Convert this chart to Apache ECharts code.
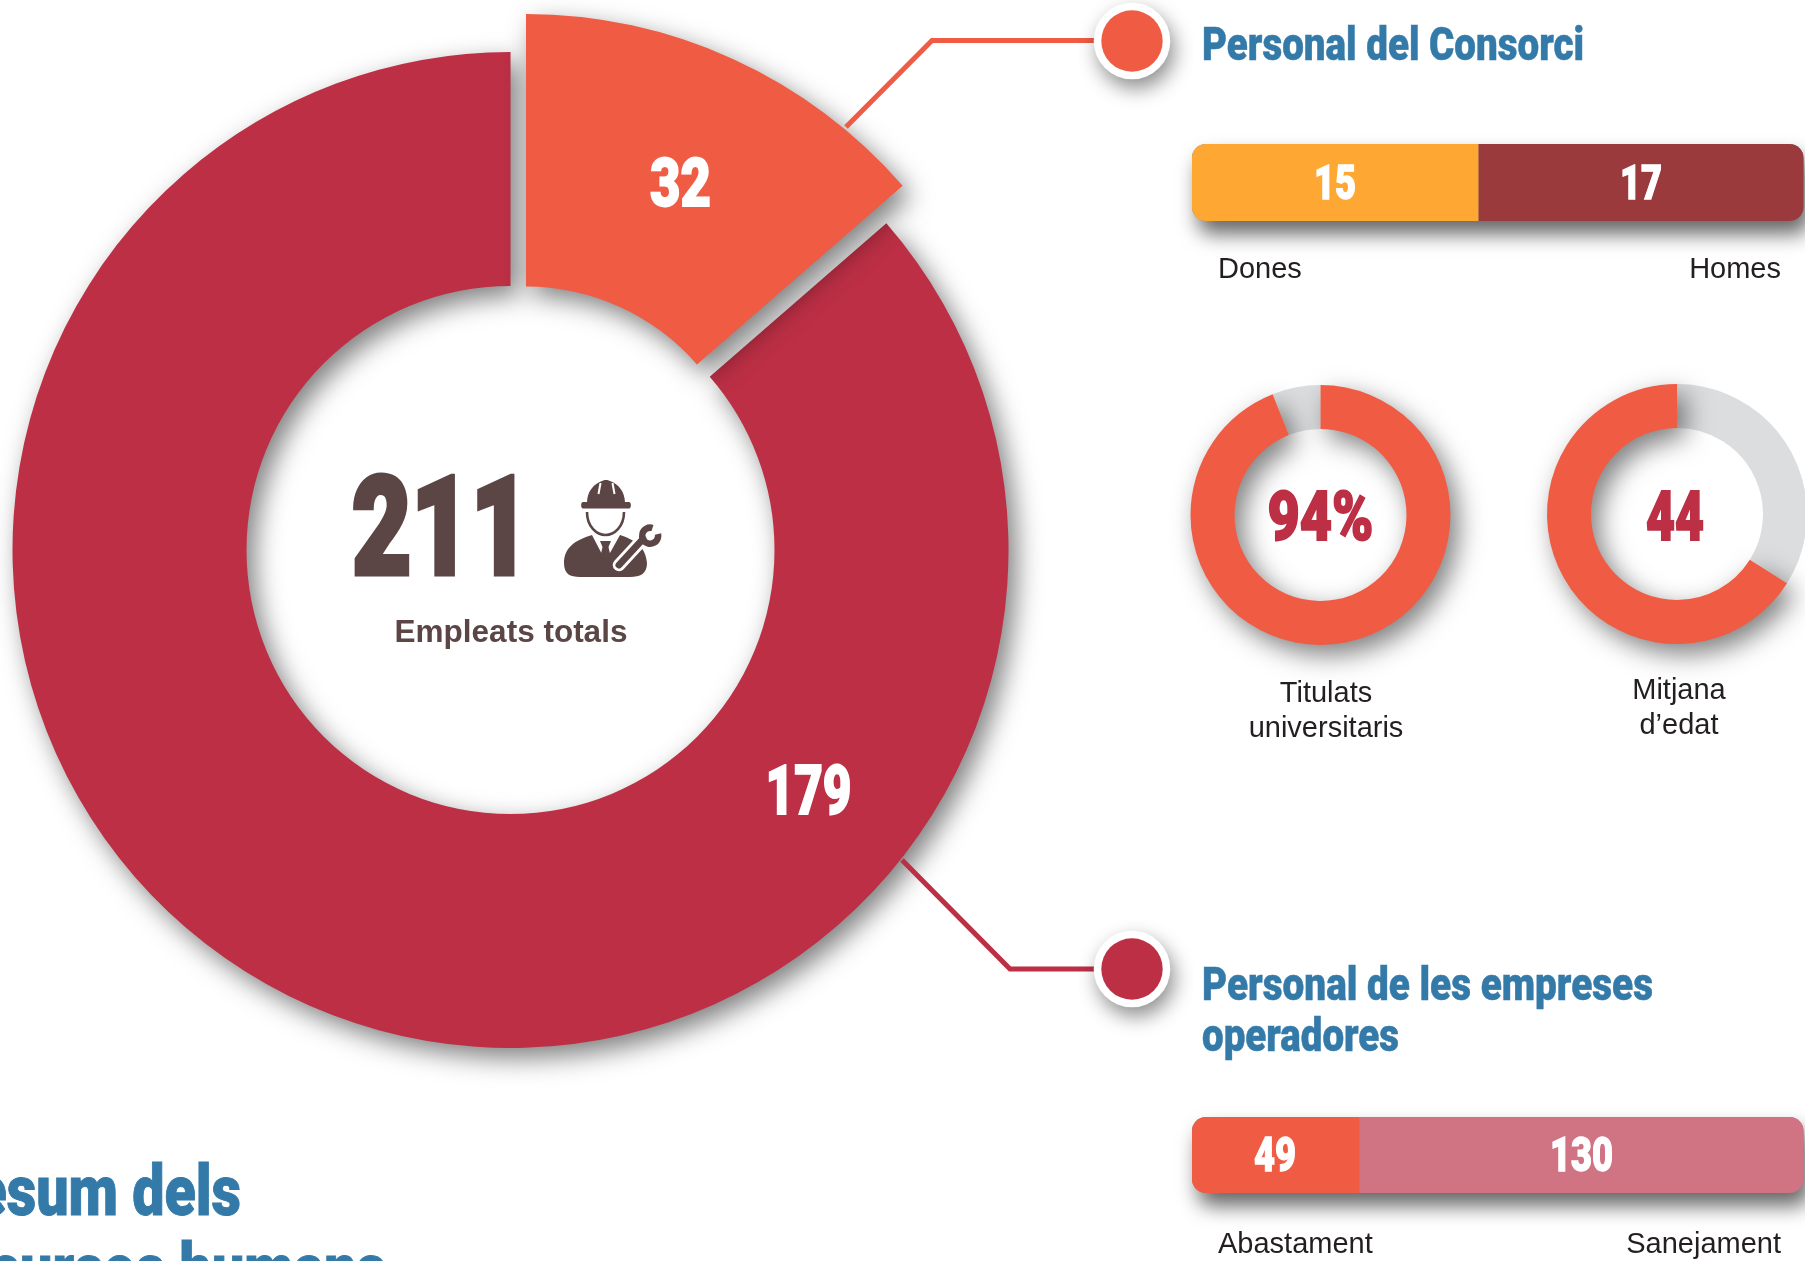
<!DOCTYPE html>
<html>
<head>
<meta charset="utf-8">
<title>Resum dels recursos humans</title>
<script src="https://cdn.jsdelivr.net/npm/echarts@6/dist/echarts.min.js"></script>
<style>html,body{margin:0;padding:0;background:#fff}#c{width:1805px;height:1261px}</style>
</head>
<body>
<div id="c"></div>
<script>
// Headcount (as printed)
const groupNames = ['Personal del Consorci', 'Personal de les empreses operadores'];
const groupCounts = [32, 179];
const totalCount = 211;
const totalLabel = 'Empleats totals';
// The printed ring does not give the slices their true share: the orange wedge
// spans 49 degrees, not 54.6. Invisible remainders reproduce the drawn arcs.
const consorciRemainder = [203.1];
const operadoresRemainder = [28.2];

const genderNames = ['Dones', 'Homes'];
const genderValues = [15, 17];
const serviceNames = ['Abastament', 'Sanejament'];
const serviceValues = [49, 130];

const graduatesPct = [94, 6];
const graduatesLabel = ['Titulats', 'universitaris'];
const ageValue = [44, 22.6];   // mean age and the grey remainder of the drawn ring
const ageLabel = ['Mitjana', 'd\u2019edat'];

const titleLines = ['Resum dels', 'recursos humans'];
const headingLines = ['Personal de les empreses', 'operadores'];

const ORANGE = '#f05b44', RED = '#bc2f45', AMBER = '#ffa733', BROWN = '#9a3a3c',
      PINK = '#d07383', GREY = '#dcddde', BLUE = '#347aa9', DARK = '#5b4545', INK = '#231f20';
const HEAVY = 'Roboto, "Liberation Sans", sans-serif';
const SANS = '"Liberation Sans", Arial, sans-serif';

const shadow = {shadowColor: 'rgba(0,0,0,0.5)', shadowBlur: 26, shadowOffsetX: 8, shadowOffsetY: 10};
const none = {color: 'rgba(0,0,0,0)', shadowBlur: 0, shadowColor: 'rgba(0,0,0,0)', borderWidth: 0};

const ctx = document.createElement('canvas').getContext('2d');
function widthScale(text, size, targetWidth) {
  ctx.font = '900 ' + size + 'px ' + HEAVY;
  return targetWidth / ctx.measureText(text).width;
}

function hidden(name, value) {
  return {name, value, itemStyle: none};
}
function shown(name, value, color, extra) {
  return {name, value, itemStyle: Object.assign({color}, extra || {})};
}
function ring(center, radius, startAngle, data, extra) {
  return Object.assign({
    type: 'pie', center, radius, startAngle, clockwise: true, silent: true,
    label: {show: false}, labelLine: {show: false}, data, animation: false,
    emphasis: {disabled: true}
  }, extra || {});
}
function barSeries(gridIndex, name, value, color, radius, withBg) {
  const s = {
    type: 'bar', stack: 's' + gridIndex, xAxisIndex: gridIndex, yAxisIndex: gridIndex,
    name, barWidth: '100%', silent: true, animation: false,
    data: [{value, itemStyle: {color, borderRadius: radius}}]
  };
  if (withBg) {
    s.showBackground = true;
    s.backgroundStyle = {color: '#888', borderRadius: 14, shadowColor: 'rgba(0,0,0,0.6)',
      shadowBlur: 20, shadowOffsetX: 6, shadowOffsetY: 13};
  }
  return s;
}
function txt(text, x, baseline, size, o) {
  o = o || {};
  return {
    type: 'text', x, y: baseline - size * 0.27, z: 20, scaleX: o.sx || 1, scaleY: o.sy || 1,
    silent: true,
    style: {text, x: 0, y: 0, fontSize: size, fontFamily: o.font || SANS,
      fontWeight: o.weight || 'normal', fill: o.color || INK, align: o.align || 'left',
      verticalAlign: 'middle', stroke: o.stroke ? (o.color || INK) : null, lineWidth: o.stroke || 0}
  };
}
function heavy(text, x, baseline, size, width, color, align, sx, stroke) {
  return txt(text, x, baseline, size, {font: HEAVY, weight: 900, color, align: align || 'center',
    sx: sx || widthScale(text, size, width), stroke: stroke || size * 0.028});
}
function dot(cx, cy, color) {
  return [
    {type: 'circle', z: 15, silent: true, shape: {cx, cy, r: 38.3},
     style: {fill: '#fff', shadowColor: 'rgba(0,0,0,0.45)', shadowBlur: 20, shadowOffsetX: 4, shadowOffsetY: 9}},
    {type: 'circle', z: 16, silent: true, shape: {cx, cy, r: 30.7}, style: {fill: color}}
  ];
}
function leader(points, color) {
  return {type: 'polyline', z: 12, silent: true, shape: {points},
    style: {stroke: color, lineWidth: 5, fill: null, lineJoin: 'miter'}};
}
function iconPath(d, style) {
  return {type: 'path', silent: true, shape: {pathData: d}, style};
}

const iconShapes = [
  iconPath('M587 503 C587 491 594 484 602 481 C604 479.5 608 479.5 610 481 C618 484 625 491 625 503 Z', {fill: DARK}),
  iconPath('M583 502 L629 502 C631.5 502 631.5 508.5 629 508.5 L583 508.5 C580.5 508.5 580.5 502 583 502 Z', {fill: DARK}),
  iconPath('M600.5 483 L598.5 494', {stroke: '#fff', lineWidth: 2, fill: null}),
  iconPath('M612.5 483 L614.5 494', {stroke: '#fff', lineWidth: 2, fill: null}),
  iconPath('M587 512 C587 527 597 535 605.5 535 C614 535 624 527 624 512', {stroke: DARK, lineWidth: 2.6, fill: null}),
  iconPath('M564 563 C564 548 575 540 592 535 L605.5 561 L620 535 C636 540 646 548 647 563 C647 574 640 577 630 577 L580 577 C570 577 564 574 564 563 Z', {fill: DARK}),
  iconPath('M600 541 L611 541 L608.5 547 L611 558 L605.5 564 L600 558 L602.5 547 Z', {fill: DARK}),
  iconPath('M619 565 L643 539', {stroke: '#fff', lineWidth: 12.5, lineCap: 'round', fill: null}),
  iconPath('M651.5 526.5 A9 9 0 1 0 659.5 535', {stroke: '#fff', lineWidth: 12, fill: null}),
  iconPath('M619 565 L643 539', {stroke: DARK, lineWidth: 7, lineCap: 'round', fill: null}),
  iconPath('M652.5 528 A8 8 0 1 0 658 534', {stroke: DARK, lineWidth: 6.5, fill: null})
];

const blueScale = widthScale(groupNames[0], 46, 382) * 0.965;
const option = {
  backgroundColor: '#fff',
  animation: false,
  grid: [
    {left: 1192, top: 144, width: 611.5, height: 77},
    {left: 1192, top: 1117, width: 611.5, height: 76}
  ],
  xAxis: [
    {type: 'value', gridIndex: 0, min: 0, max: genderValues[0] + genderValues[1], show: false},
    {type: 'value', gridIndex: 1, min: 0, max: serviceValues[0] + serviceValues[1], show: false}
  ],
  yAxis: [
    {type: 'category', gridIndex: 0, data: [groupNames[0]], show: false},
    {type: 'category', gridIndex: 1, data: [groupNames[1]], show: false}
  ],
  series: [
    ring([510.5, 550], [264, 498], 41, [
      shown(groupNames[1], groupCounts[1], RED, shadow),
      hidden('resta', operadoresRemainder[0])
    ], {z: 2}),
    ring([526, 513], [226.5, 499], 90, [
      shown(groupNames[0], groupCounts[0], ORANGE, shadow),
      hidden('resta', consorciRemainder[0])
    ], {z: 3}),
    ring([1320.5, 515], [86, 130], 111.6, [
      {name: 'resta', value: graduatesPct[1], itemStyle: {color: GREY}},
      shown('Titulats', graduatesPct[0], ORANGE, shadow)
    ], {z: 2}),
    ring([1677, 514], [86, 130], 90, [
      {name: 'resta', value: ageValue[1], itemStyle: {color: GREY}},
      shown('Edat', ageValue[0], ORANGE, shadow)
    ], {z: 2}),
    barSeries(0, genderNames[0], genderValues[0], AMBER, [14, 0, 0, 14], true),
    barSeries(0, genderNames[1], genderValues[1], BROWN, [0, 14, 14, 0], false),
    barSeries(1, serviceNames[0], serviceValues[0], ORANGE, [14, 0, 0, 14], true),
    barSeries(1, serviceNames[1], serviceValues[1], PINK, [0, 14, 14, 0], false),
    {type: 'custom', coordinateSystem: 'none', z: 8, silent: true, animation: false, data: [totalCount],
      renderItem: function () { return {type: 'group', children: iconShapes}; }}
  ],
  graphic: {elements: [
    leader([[846, 127], [932, 40.5], [1100, 40.5]], ORANGE),
    leader([[902, 860], [1010, 969], [1100, 969]], RED),
    ...dot(1132, 41, ORANGE),
    ...dot(1132, 969, RED),
    heavy(String(totalCount), 441, 576.5, 138, 178, DARK, 'center', 0, 5),
    txt(totalLabel, 511, 641.5, 31.5, {weight: 'bold', color: DARK, align: 'center'}),
    heavy(String(groupCounts[0]), 680.5, 207, 66, 61, '#fff'),
    heavy(String(groupCounts[1]), 808.5, 815, 68, 86, '#fff'),
    heavy(graduatesPct[0] + '%', 1320.5, 541, 68, 106, RED),
    heavy(String(ageValue[0]), 1675, 541, 68, 58, RED),
    heavy(String(genderValues[0]), 1335, 200, 48, 42, '#fff'),
    heavy(String(genderValues[1]), 1641, 200, 48, 42, '#fff'),
    heavy(String(serviceValues[0]), 1275, 1172, 48, 42, '#fff'),
    heavy(String(serviceValues[1]), 1581.5, 1172, 48, 63, '#fff'),
    heavy(groupNames[0], 1202, 61, 46, 382, BLUE, 'left', 0, 0.5),
    heavy(headingLines[0], 1202, 1001, 46, 451, BLUE, 'left', 0, 0.5),
    heavy(headingLines[1], 1202, 1052, 46, 197, BLUE, 'left', 0, 0.5),
    txt(genderNames[0], 1218, 278, 29),
    txt(genderNames[1], 1781, 278, 29, {align: 'right'}),
    txt(serviceNames[0], 1218, 1253, 29),
    txt(serviceNames[1], 1781, 1253, 29, {align: 'right'}),
    txt(graduatesLabel[0], 1326, 701.5, 29, {align: 'center'}),
    txt(graduatesLabel[1], 1326, 736.5, 29, {align: 'center'}),
    txt(ageLabel[0], 1679, 699, 29, {align: 'center'}),
    txt(ageLabel[1], 1679, 734, 29, {align: 'center'}),
    heavy(titleLines[0], 241, 1216, 71, 0, BLUE, 'right', blueScale, 1),
    heavy(titleLines[1], 386, 1294, 71, 0, BLUE, 'right', blueScale, 1)
  ]}
};
echarts.init(document.getElementById('c'), null, {renderer: 'canvas'}).setOption(option);
</script>
</body>
</html>
